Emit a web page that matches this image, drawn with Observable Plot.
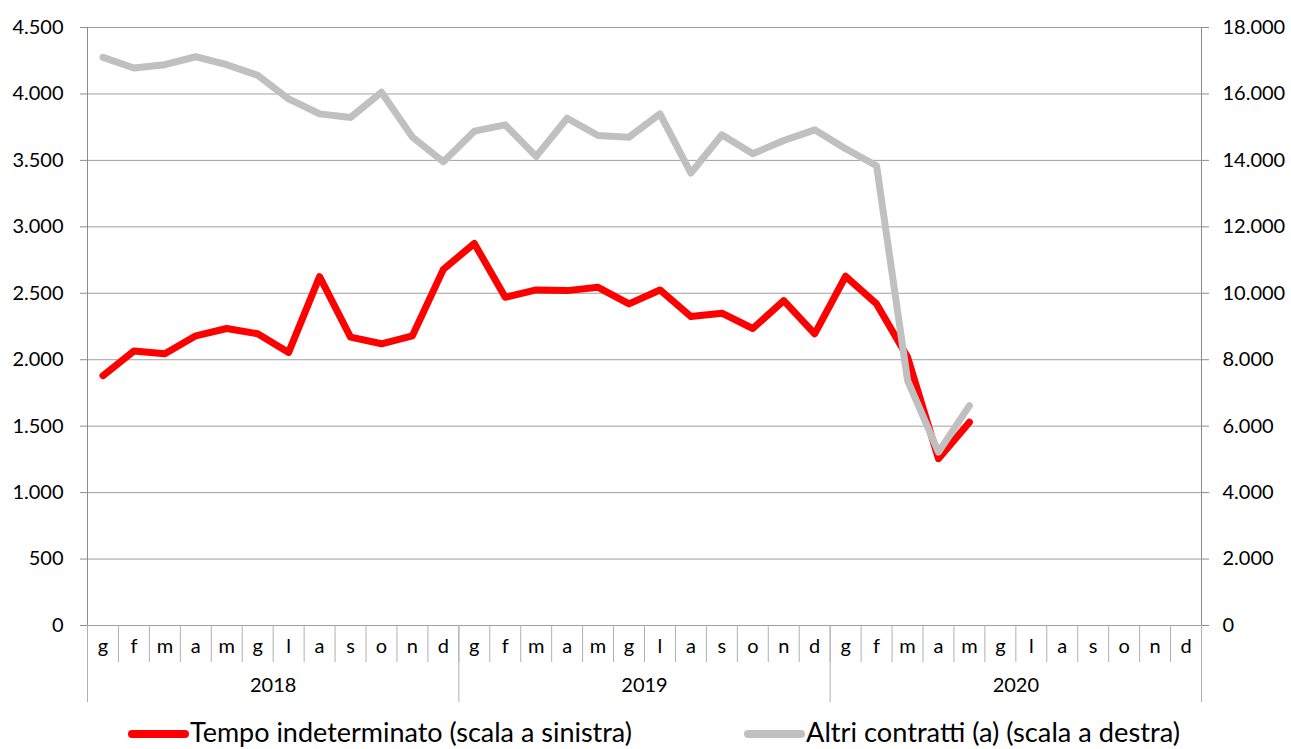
<!DOCTYPE html>
<html><head><meta charset="utf-8">
<script src="https://cdn.jsdelivr.net/npm/d3@7"></script>
<script src="https://cdn.jsdelivr.net/npm/@observablehq/plot@0.6"></script>
<style>
body{margin:0;background:#fff;font-family:Lato, sans-serif;}
#chart{position:relative;width:1291px;height:749px;overflow:hidden;background:#fff}
#chart svg{display:block}
</style></head><body><div id="chart"></div>
<script>
const months = ["g","f","m","a","m","g","l","a","s","o","n","d"];
const years = ["2018","2019","2020"];
const tempoIndeterminato = [1880,2065,2045,2180,2235,2195,2055,2625,2170,2120,2180,2680,
  2875,2470,2525,2520,2545,2420,2525,2325,2350,2235,2445,2195,
  2628,2420,2020,1255,1530];
const altriContratti = [17100,16780,16880,17120,16880,16560,15850,15400,15290,16050,14700,13960,
  14880,15070,14120,15270,14750,14700,15400,13620,14770,14200,14600,14920,
  14350,13840,7380,5220,6620];
const yTicksLeft = [0,500,1000,1500,2000,2500,3000,3500,4000,4500];
const yTicksRight = [0,2000,4000,6000,8000,10000,12000,14000,16000,18000];
const seriesNames = ["Tempo indeterminato (scala a sinistra)", "Altri contratti (a) (scala a destra)"];

const ratio = d3.max(yTicksRight) / d3.max(yTicksLeft);
const nMonths = months.length * years.length;
const fmt = d3.formatLocale({decimal: ",", thousands: ".", grouping: [3], currency: ["", "€"]}).format(",d");

const rows = tempoIndeterminato.map((t, i) => ({x: i + 0.5, t, a: altriContratti[i]}));

const chart = Plot.plot({
  width: 1291, height: 712,
  marginLeft: 87, marginRight: 90, marginTop: 27, marginBottom: 87,
  x: {domain: [0, nMonths]},
  y: {domain: [0, d3.max(yTicksLeft)]},
  style: {fontFamily: "Lato, sans-serif", fontSize: "20px", color: "#000", background: "#fff", overflow: "visible"},
  marks: [
    Plot.gridY(yTicksLeft, {stroke: "#a0a0a0", strokeOpacity: 1}),
    Plot.ruleX([0, nMonths], {stroke: "#8c8c8c"}),
    Plot.axisY(yTicksLeft, {anchor: "left", tickSize: 7, tickPadding: 17, tickFormat: fmt, stroke: "#8c8c8c", label: null}),
    Plot.axisY(yTicksRight.map(v => v / ratio), {anchor: "right", tickSize: 7, tickPadding: 14, tickFormat: d => fmt(d * ratio), stroke: "#8c8c8c", label: null}),
    Plot.axisX(d3.range(nMonths + 1), {tickSize: 37, tickFormat: () => "", stroke: "#b0b0b0", label: null}),
    Plot.axisX(d3.range(0, nMonths + 1, 12), {tickSize: 77, tickFormat: () => "", stroke: "#b0b0b0", label: null}),
    Plot.axisX(d3.range(nMonths).map(i => i + 0.5), {tickSize: 0, tickPadding: 13, tickFormat: d => months[Math.floor(d) % 12], label: null}),
    Plot.axisX(years.map((y, k) => k * 12 + 6), {tickSize: 0, tickPadding: 52, tickFormat: d => years[(d - 6) / 12], label: null}),
    Plot.line(rows, {x: "x", y: "t", stroke: "#ff0000", strokeWidth: 7, strokeLinejoin: "round", strokeLinecap: "round"}),
    Plot.line(rows, {x: "x", y: d => d.a / ratio, stroke: "#c0c0c0", strokeWidth: 7, strokeLinejoin: "round", strokeLinecap: "round"})
  ]
});
document.getElementById("chart").appendChild(chart);

// legend
const ns = "http://www.w3.org/2000/svg";
const leg = document.createElementNS(ns, "svg");
leg.setAttribute("width", 1291); leg.setAttribute("height", 37);
const items = [
  {name: seriesNames[0], color: "#ff0000", x1: 132, x2: 185, tx: 190, tl: 442},
  {name: seriesNames[1], color: "#c0c0c0", x1: 748, x2: 801, tx: 806, tl: 374}
];
for (const it of items) {
  const l = document.createElementNS(ns, "line");
  l.setAttribute("x1", it.x1); l.setAttribute("x2", it.x2);
  l.setAttribute("y1", 22); l.setAttribute("y2", 22);
  l.setAttribute("stroke", it.color); l.setAttribute("stroke-width", 8); l.setAttribute("stroke-linecap", "round");
  leg.appendChild(l);
  const t = document.createElementNS(ns, "text");
  t.setAttribute("x", it.tx); t.setAttribute("y", 30);
  t.setAttribute("font-family", "Lato, sans-serif"); t.setAttribute("font-size", 27);
  t.setAttribute("textLength", it.tl); t.setAttribute("lengthAdjust", "spacingAndGlyphs");
  t.textContent = it.name;
  leg.appendChild(t);
}
document.getElementById("chart").appendChild(leg);
</script>
</body></html>
